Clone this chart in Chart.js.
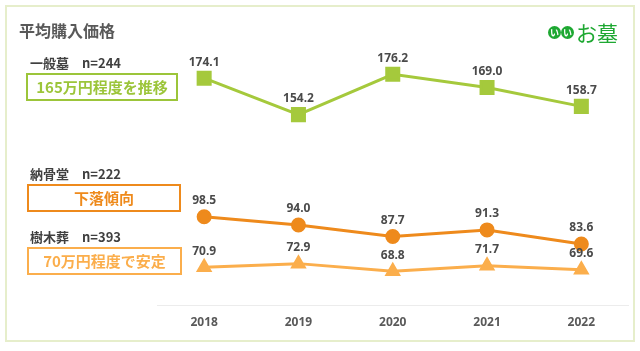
<!DOCTYPE html>
<html>
<head>
<meta charset="utf-8">
<script src="https://cdn.jsdelivr.net/npm/chart.js@4/dist/chart.umd.min.js"></script>
<style>
  body { margin: 0; background: #fff; font-family: "Noto Sans CJK JP", "Noto Sans", sans-serif; }
  .wrap { position: relative; width: 640px; height: 351px; }
  .frame { position: absolute; left: 5px; top: 5px; width: 626px; height: 333px; border: 2px solid #e6eecb; }
  canvas { position: absolute; left: 0; top: 0; }
  .txt { position: absolute; white-space: pre; font-weight: bold; }
  .title { left: 19px; top: 18px; font-size: 16px; color: #595959; }
  .label { left: 30px; font-size: 13px; color: #404040; }
  .box { position: absolute; height: 24px; line-height: 24px; text-align: center; font-size: 15px; font-weight: bold; border: 2px solid; }
  .logo { position: absolute; left: 548px; top: 17px; color: #1ea832; font-size: 21px; display: flex; align-items: center; }
  .logo .c { display: inline-block; width: 13px; height: 13px; border-radius: 7px; background: #1ea832; color: #fff; font-size: 9px; font-weight: bold; line-height: 13px; text-align: center; }
</style>
</head>
<body>
<div class="wrap">
  <div class="frame"></div>
  <canvas id="myChart" width="640" height="351"></canvas>
  <div class="txt title">平均購入価格</div>
  <div class="logo"><span class="c">い</span><span class="c">い</span><span style="margin-left:2px">お墓</span></div>

  <div class="txt label" style="top:53px">一般墓　n=244</div>
  <div class="box" style="left:26px; top:73px; width:148px; color:#9cc53a; border-color:#9cc53a;">165万円程度を推移</div>

  <div class="txt label" style="top:164px">納骨堂　n=222</div>
  <div class="box" style="left:27px; top:184px; width:150px; color:#ee8a1c; border-color:#ee8a1c;">下落傾向</div>

  <div class="txt label" style="top:227px">樹木葬　n=393</div>
  <div class="box" style="left:27px; top:247px; width:151px; color:#fbae4c; border-color:#fbae4c;">70万円程度で安定</div>
</div>

<script>
const years = ["2018", "2019", "2020", "2021", "2022"];
const ippanbo = [174.1, 154.2, 176.2, 169.0, 158.7];
const noukotsudo = [98.5, 94.0, 87.7, 91.3, 83.6];
const jumokuso = [70.9, 72.9, 68.8, 71.7, 69.6];

const valueLabels = {
  id: "valueLabels",
  afterDatasetsDraw(chart) {
    const ctx = chart.ctx;
    ctx.save();
    ctx.font = "bold 12px 'Noto Sans', sans-serif";
    ctx.fillStyle = "#4a4a4a";
    ctx.textAlign = "center";
    ctx.textBaseline = "bottom";
    chart.data.datasets.forEach((ds, i) => {
      const meta = chart.getDatasetMeta(i);
      meta.data.forEach((pt, j) => {
        ctx.fillText(ds.data[j].toFixed(1), pt.x, pt.y - 10);
      });
    });
    ctx.restore();
  }
};

new Chart(document.getElementById("myChart"), {
  type: "line",
  data: {
    labels: years,
    datasets: [
      {
        label: "一般墓",
        data: ippanbo,
        borderColor: "#a5c93c",
        backgroundColor: "#a5c93c",
        borderWidth: 3,
        pointStyle: "rect",
        pointRadius: 8.5,
        pointHoverRadius: 8.5
      },
      {
        label: "納骨堂",
        data: noukotsudo,
        borderColor: "#ee8a1c",
        backgroundColor: "#ee8a1c",
        borderWidth: 3,
        pointStyle: "circle",
        pointRadius: 6,
        pointHoverRadius: 6
      },
      {
        label: "樹木葬",
        data: jumokuso,
        borderColor: "#fbae4c",
        backgroundColor: "#fbae4c",
        borderWidth: 3,
        pointStyle: "triangle",
        pointRadius: 6.5,
        pointHoverRadius: 6.5
      }
    ]
  },
  options: {
    responsive: false,
    animation: false,
    layout: { padding: { left: 157, right: 8, top: 49, bottom: 19 } },
    plugins: {
      legend: { display: false },
      tooltip: { enabled: false }
    },
    scales: {
      x: {
        offset: true,
        grid: { display: false },
        border: { color: "#ececec", width: 1 },
        ticks: { color: "#595959", font: { size: 12, weight: "bold", family: "'Noto Sans', sans-serif" }, padding: 2 }
      },
      y: {
        display: false,
        min: 50,
        max: 190
      }
    }
  },
  plugins: [valueLabels]
});
</script>
</body>
</html>
